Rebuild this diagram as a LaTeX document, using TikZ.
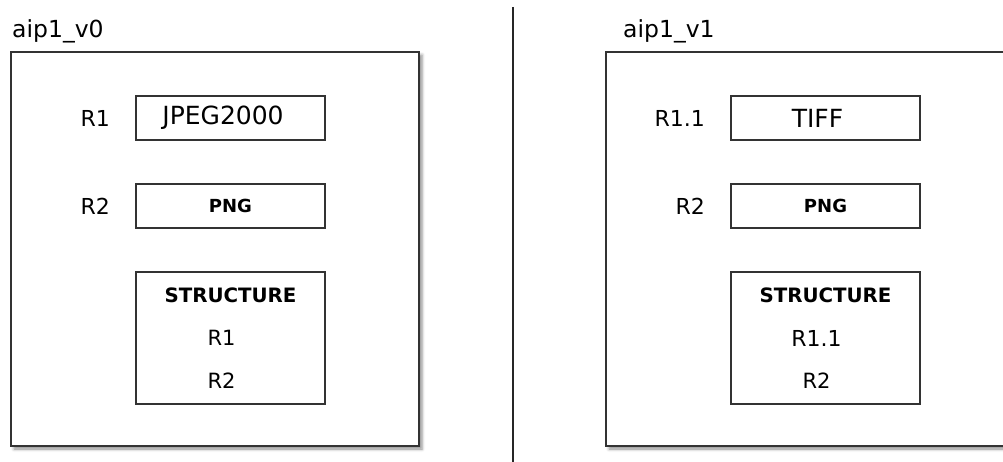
\documentclass[tikz,border=0pt]{standalone}
\usepackage{fontspec}
\setmainfont{DejaVu Sans}
\usetikzlibrary{positioning,shadows,shadows.blur}

\begin{document}
\begin{tikzpicture}[x=1pt,y=-1pt,
    aip/.style={draw=black!80,line width=2pt,fill=white,anchor=north west,
      minimum width=408pt,minimum height=394pt,inner sep=0pt,outer sep=0pt,
      blur shadow={shadow xshift=3pt,shadow yshift=-3pt,shadow blur radius=3pt,shadow opacity=45}},
    fmt/.style={draw=black!80,line width=1.5pt,fill=white,minimum width=189pt,
      minimum height=44pt,inner sep=0pt,outer sep=0pt,font=\fontsize{25pt}{30pt}\selectfont},
    fmtsmall/.style={fmt,font=\bfseries\fontsize{18pt}{22pt}\selectfont},
    struct/.style={fmt,minimum height=132pt},
    title/.style={anchor=base west,inner sep=0pt,font=\fontsize{23.5pt}{28pt}\selectfont},
    rep/.style={inner sep=0pt,font=\fontsize{22pt}{26pt}\selectfont},
    divider/.style={draw=black!85,line width=2pt}]
  \useasboundingbox (0,0) rectangle (1003,462);

  % left: aip1_v0
  \node[aip] (V0) at (11,52) {};
  \node[title] (V0t) at (12,38) {aip1\_v0};
  \node[fmt,anchor=north west] (J0) at ([xshift=125pt,yshift=-44pt]V0.north west) {\hspace*{-15pt}JPEG2000};
  \node[fmtsmall,below=44pt of J0] (P0) {PNG};
  \node[struct,below=44pt of P0] (S0) {};
  \node[rep,left=26pt of J0] (R1a) {R1};
  \node[rep,left=26pt of P0] (R2a) {R2};
  \node[rep,font=\bfseries\fontsize{19.8pt}{24pt}\selectfont] (S0t) at ([yshift=-23pt]S0.north) {STRUCTURE};
  \node[rep,font=\fontsize{21pt}{25pt}\selectfont] (S0a) at ([xshift=-9pt]S0.center) {R1};
  \node[rep,font=\fontsize{21pt}{25pt}\selectfont] (S0b) at ([xshift=-9pt,yshift=-43pt]S0.center) {R2};

  % divider
  \coordinate (top) at (512.5,7);
  \coordinate (bot) at (512.5,462);
  \draw[divider] (top) -- (bot);

  % right: aip1_v1
  \node[aip] (V1) at (606,52) {};
  \node[title] (V1t) at (623,38) {aip1\_v1};
  \node[fmt,anchor=north west] (J1) at ([xshift=125pt,yshift=-44pt]V1.north west) {\hspace*{-16pt}TIFF};
  \node[fmtsmall,below=44pt of J1] (P1) {PNG};
  \node[struct,below=44pt of P1] (S1) {};
  \node[rep,left=26pt of J1] (R1b) {R1.1};
  \node[rep,left=26pt of P1] (R2b) {R2};
  \node[rep,font=\bfseries\fontsize{19.8pt}{24pt}\selectfont] (S1t) at ([yshift=-23pt]S1.north) {STRUCTURE};
  \node[rep,font=\fontsize{22pt}{26pt}\selectfont] (S1a) at ([xshift=-9pt]S1.center) {R1.1};
  \node[rep,font=\fontsize{21pt}{25pt}\selectfont] (S1b) at ([xshift=-9pt,yshift=-43pt]S1.center) {R2};
\end{tikzpicture}
\end{document}
